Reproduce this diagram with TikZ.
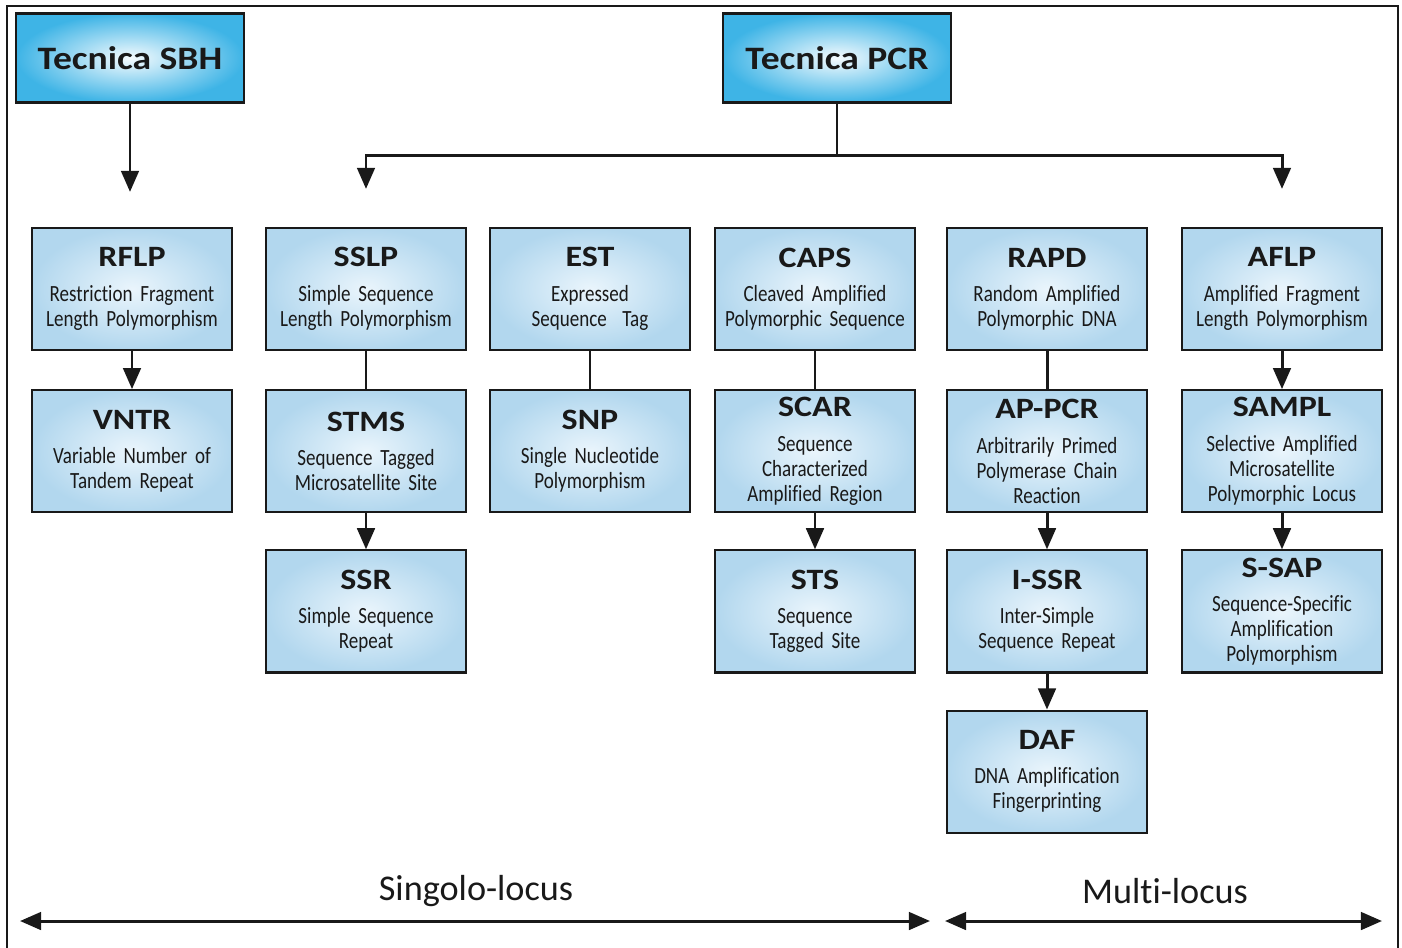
\documentclass[tikz,border=0pt]{standalone}
\usepackage{fontspec}
\setmainfont[Ligatures=NoCommon]{Carlito}
\newfontfamily\hdfamily[FakeStretch=1.15,Ligatures=NoCommon]{Carlito}
\newfontfamily\subfamily[FakeStretch=0.82,Ligatures=NoCommon]{Carlito}
\usepackage{tikz}
\usetikzlibrary{arrows.meta,positioning,calc}

\definecolor{boxin}{RGB}{234,245,252}
\definecolor{boxout}{RGB}{178,215,238}
\definecolor{topin}{RGB}{245,251,254}
\definecolor{topout}{RGB}{62,180,230}
\definecolor{ink}{RGB}{25,25,25}

\newcommand{\hd}{\hdfamily\bfseries\fontsize{8.4}{9}\selectfont}
\newcommand{\sub}{\subfamily\fontsize{6.6}{7.1}\selectfont\spaceskip=1.4pt plus 0.5pt}
\newcommand{\entry}[2]{{\hd #1}\\[2.7pt]#2}

\begin{document}
\begin{tikzpicture}[x=0.01cm, y=-0.01cm, >={Triangle[width=5pt,length=6pt]}, node distance=0.36cm, text=ink]
\tikzstyle{tecnica}=[draw=ink, line width=0.6pt, rectangle, inner sep=0pt, inner color=topin, outer color=topout, minimum width=2.27cm, minimum height=0.89cm, font=\hdfamily\bfseries\fontsize{9.3}{11}\selectfont]
\tikzstyle{marker}=[draw=ink, line width=0.6pt, rectangle, inner sep=0pt, inner color=boxin, outer color=boxout, minimum width=2cm, minimum height=1.22cm, text width=1.9cm, align=center, font=\sub]
\tikzstyle{locus}=[font=\fontsize{10.3}{12}\selectfont]
\tikzstyle{arr}=[->, draw=ink, line width=0.85pt]
\tikzstyle{link}=[draw=ink, line width=0.85pt]

\useasboundingbox (0,0) rectangle (1402,947);
\draw[draw=ink, line width=0.6pt] (7,950) -- (7,6) -- (1398,6) -- (1398,950);

% techniques
\node[tecnica] (sbh) at (130,58) {Tecnica SBH};
\node[tecnica] (pcr) at (837,58) {Tecnica PCR};

% first row
\node[marker] (rflp) at (132,289)  {\entry{RFLP}{Restriction Fragment\\Length Polymorphism}};
\node[marker] (sslp) at (366,289)  {\entry{SSLP}{Simple Sequence\\Length Polymorphism}};
\node[marker] (est)  at (590,289)  {\entry{EST}{Expressed\\Sequence~~Tag}};
\node[marker] (caps) at (815,289)  {\entry{CAPS}{Cleaved Amplified\\Polymorphic Sequence}};
\node[marker] (rapd) at (1047,289) {\entry{RAPD}{Random Amplified\\Polymorphic DNA}};
\node[marker] (aflp) at (1282,289) {\entry{AFLP}{Amplified Fragment\\Length Polymorphism}};

% second row
\node[marker] (vntr)  [below=0.38cm of rflp] {\entry{VNTR}{Variable Number of\\Tandem Repeat}};
\node[marker] (stms)  [below=0.38cm of sslp] {\entry{STMS}{Sequence Tagged\\Microsatellite Site}};
\node[marker] (snp)   [below=0.38cm of est]  {\entry{SNP}{Single Nucleotide\\Polymorphism}};
\node[marker] (scar)  [below=0.38cm of caps] {\entry{SCAR}{Sequence\\Characterized\\Amplified Region}};
\node[marker] (appcr) [below=0.38cm of rapd] {\entry{AP-PCR}{Arbitrarily Primed\\Polymerase Chain\\Reaction}};
\node[marker] (sampl) [below=0.38cm of aflp] {\entry{SAMPL}{Selective Amplified\\Microsatellite\\Polymorphic Locus}};

% third row
\node[marker] (ssr)  [below=of stms]  {\entry{SSR}{Simple Sequence\\Repeat}};
\node[marker] (sts)  [below=of scar]  {\entry{STS}{Sequence\\Tagged Site}};
\node[marker] (issr) [below=of appcr] {\entry{I-SSR}{Inter-Simple\\Sequence Repeat}};
\node[marker] (ssap) [below=of sampl] {\entry{S-SAP}{Sequence-Specific\\Amplification\\Polymorphism}};

% fourth row
\node[marker] (daf) [below=of issr] {\entry{DAF}{DNA Amplification\\Fingerprinting}};

% from the techniques
\draw[arr, shorten >=0.35cm] (sbh.south) -- (sbh.south |- rflp.north);
\coordinate (bus) at (0,155);
\draw[link] (pcr.south) -- (pcr.south |- bus);
\draw[arr, shorten >=0.38cm] (pcr.south |- bus) -| (sslp.north);
\draw[arr, shorten >=0.38cm] (pcr.south |- bus) -| (aflp.north);

% inside the columns
\draw[arr]  (rflp) -- (vntr);
\draw[link] (sslp) -- (stms);
\draw[arr]  (stms) -- (ssr);
\draw[link] (est) -- (snp);
\draw[link] (caps) -- (scar);
\draw[arr]  (scar) -- (sts);
\draw[link] (rapd) -- (appcr);
\draw[arr]  (appcr) -- (issr);
\draw[arr]  (issr) -- (daf);
\draw[arr]  (aflp) -- (sampl);
\draw[arr]  (sampl) -- (ssap);

% loci
\node[locus] (singolo) at (476,891)  {Singolo-locus};
\node[locus] (multi)   at (1165,891) {Multi-locus};
\coordinate (sa) at (20,921);
\coordinate (sb) at (930,921);
\coordinate (ma) at (945,921);
\coordinate (mb) at (1382,921);
\draw[arr, <->] (sa) -- (sb);
\draw[arr, <->] (ma) -- (mb);

\end{tikzpicture}
\end{document}
